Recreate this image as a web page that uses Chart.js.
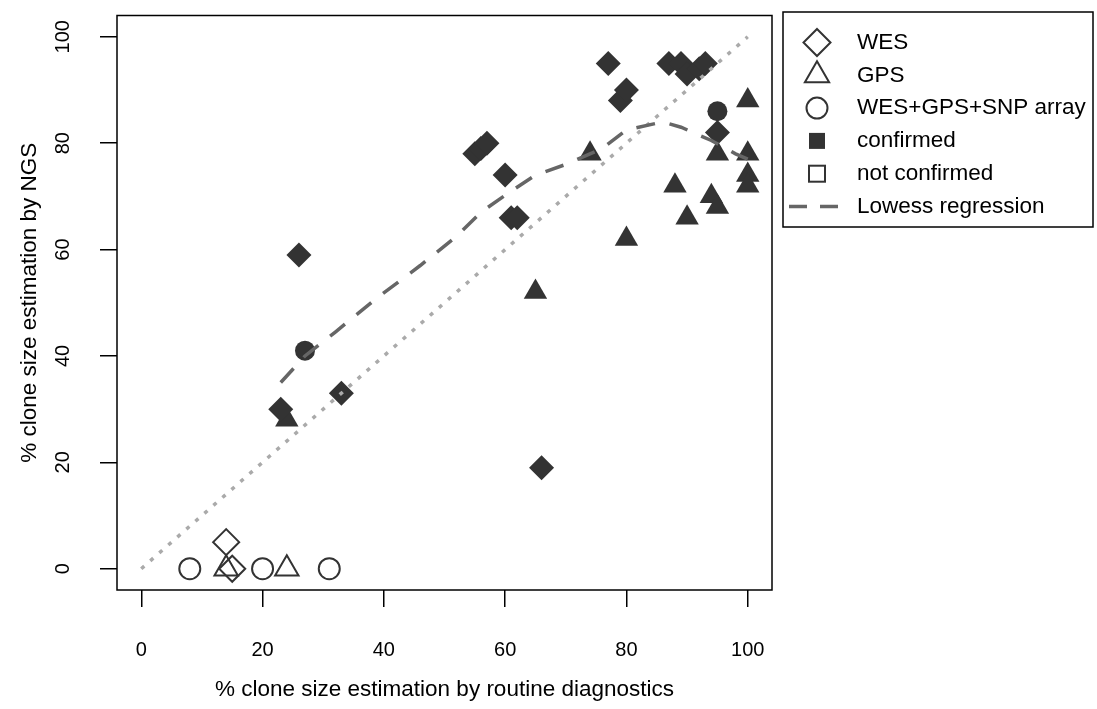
<!DOCTYPE html>
<html>
<head>
<meta charset="utf-8">
<title>Clone size estimation</title>
<script src="https://cdn.jsdelivr.net/npm/chart.js"></script>
<style>
  body { margin: 0; background: #fff; }
  canvas { display: block; }
</style>
</head>
<body>
<canvas id="cloneChart" width="1097" height="709"></canvas>
<script>
// ─────────────────────────────────────────────
// DATA
// ─────────────────────────────────────────────
const xTicks = [0, 20, 40, 60, 80, 100];
const yTicks = [0, 20, 40, 60, 80, 100];

// WES, confirmed
const wesConfX = [77, 87, 89, 90, 92, 93, 79, 80, 55, 56, 57, 60, 61, 62, 26, 23, 33, 66, 95];
const wesConfY = [95, 95, 95, 93, 94, 95, 88, 90, 78, 79, 80, 74, 66, 66, 59, 30, 33, 19, 82];

// GPS, confirmed
const gpsConfX = [100, 100, 100, 100, 95, 94, 95, 88, 90, 80, 74, 65, 24];
const gpsConfY = [88, 78, 74, 72, 78, 70, 68, 72, 66, 62, 78, 52, 28];

// WES+GPS+SNP array, confirmed
const combConfX = [95, 27];
const combConfY = [86, 41];

// not confirmed
const wesNotX = [14, 15];
const wesNotY = [5, 0];
const gpsNotX = [14, 24];
const gpsNotY = [0, 0];
const combNotX = [8, 20, 31];
const combNotY = [0, 0, 0];

// lowess fit
const lowessX = [23, 27, 32, 39, 46, 52, 56, 61, 65, 70, 76, 80, 86, 89, 94, 98, 100];
const lowessY = [35, 40, 44.5, 51, 57, 62.5, 67, 71, 74, 76, 79, 82.5, 84, 83, 80.5, 78, 77];

// identity line
const identX = [0, 100];
const identY = [0, 100];

const legendLabels = ['WES', 'GPS', 'WES+GPS+SNP array', 'confirmed', 'not confirmed', 'Lowess regression'];

// ─────────────────────────────────────────────
// HELPERS
// ─────────────────────────────────────────────
const FONT_FAMILY = '"Liberation Sans", Arial, sans-serif';
const TICK_SIZE = 20;
const LABEL_SIZE = 22.5;
const DARK = '#333333';

function pts(xs, ys) {
  return xs.map((x, i) => ({ x: x, y: ys[i] }));
}

function markerSet(xs, ys, style, radius, filled) {
  return {
    data: pts(xs, ys),
    pointStyle: style,
    pointRadius: radius,
    pointHoverRadius: radius,
    pointBackgroundColor: filled ? DARK : 'rgba(0,0,0,0)',
    pointBorderColor: DARK,
    pointBorderWidth: filled ? 0 : 2,
    showLine: false,
    order: 2
  };
}

// box, rotated y labels and legend, drawn like base R graphics
const rStylePlugin = {
  id: 'rStyle',
  afterDraw(chart) {
    const ctx = chart.ctx;
    const area = chart.chartArea;
    const yScale = chart.scales.y;

    ctx.save();
    ctx.strokeStyle = '#000';
    ctx.lineWidth = 1.5;
    ctx.strokeRect(area.left, area.top, area.right - area.left, area.bottom - area.top);

    ctx.fillStyle = '#000';
    ctx.font = TICK_SIZE + 'px ' + FONT_FAMILY;
    ctx.textAlign = 'center';
    ctx.textBaseline = 'middle';
    yTicks.forEach(v => {
      ctx.save();
      ctx.translate(63, yScale.getPixelForValue(v));
      ctx.rotate(-Math.PI / 2);
      ctx.fillText(String(v), 0, 0);
      ctx.restore();
    });

    // legend box
    const lx = 783, ly = 12, lw = 1093 - 783, lh = 227 - 12;
    ctx.lineWidth = 1.5;
    ctx.strokeStyle = '#000';
    ctx.strokeRect(lx, ly, lw, lh);

    const sx = 817;
    const rowY = i => 42.5 + i * 32.8;
    ctx.strokeStyle = DARK;
    ctx.fillStyle = DARK;
    ctx.lineWidth = 2;

    // open diamond
    let cy = rowY(0), r = 13.5;
    ctx.beginPath();
    ctx.moveTo(sx, cy - r); ctx.lineTo(sx + r, cy); ctx.lineTo(sx, cy + r); ctx.lineTo(sx - r, cy);
    ctx.closePath(); ctx.stroke();

    // open triangle
    cy = rowY(1); r = 14;
    ctx.beginPath();
    ctx.moveTo(sx, cy - r);
    ctx.lineTo(sx + r * Math.sqrt(3) / 2, cy + r / 2);
    ctx.lineTo(sx - r * Math.sqrt(3) / 2, cy + r / 2);
    ctx.closePath(); ctx.stroke();

    // open circle
    cy = rowY(2);
    ctx.beginPath(); ctx.arc(sx, cy, 10.5, 0, Math.PI * 2); ctx.stroke();

    // filled square
    cy = rowY(3);
    ctx.fillRect(sx - 8, cy - 8, 16, 16);

    // open square
    cy = rowY(4);
    ctx.strokeRect(sx - 8, cy - 8, 16, 16);

    // dashed line
    cy = rowY(5);
    ctx.strokeStyle = '#666666';
    ctx.lineWidth = 3.5;
    ctx.setLineDash([18, 13]);
    ctx.beginPath(); ctx.moveTo(789, cy); ctx.lineTo(839, cy); ctx.stroke();
    ctx.setLineDash([]);

    ctx.fillStyle = '#000';
    ctx.textAlign = 'left';
    ctx.font = LABEL_SIZE + 'px ' + FONT_FAMILY;
    legendLabels.forEach((t, i) => ctx.fillText(t, 857, rowY(i)));
    ctx.restore();
  }
};

// ─────────────────────────────────────────────
// CHART
// ─────────────────────────────────────────────
const tickFont = { family: FONT_FAMILY, size: TICK_SIZE };
const labelFont = { family: FONT_FAMILY, size: LABEL_SIZE };

new Chart(document.getElementById('cloneChart').getContext('2d'), {
  type: 'scatter',
  data: {
    datasets: [
      markerSet(wesConfX, wesConfY, 'rectRot', 12.5, true),
      markerSet(gpsConfX, gpsConfY, 'triangle', 13.5, true),
      markerSet(combConfX, combConfY, 'circle', 10, true),
      markerSet(wesNotX, wesNotY, 'rectRot', 13, false),
      markerSet(gpsNotX, gpsNotY, 'triangle', 13.5, false),
      markerSet(combNotX, combNotY, 'circle', 10.5, false),
      {
        data: pts(identX, identY),
        showLine: true,
        pointRadius: 0,
        borderColor: '#aaaaaa',
        borderWidth: 3.5,
        borderDash: [4, 8],
        order: 1
      },
      {
        data: pts(lowessX, lowessY),
        showLine: true,
        pointRadius: 0,
        borderColor: '#666666',
        borderWidth: 3.5,
        borderDash: [19, 15],
        tension: 0,
        order: 0
      }
    ]
  },
  options: {
    responsive: false,
    animation: false,
    layout: { padding: { top: 12, right: 1097 - 772, left: 0, bottom: 0 } },
    plugins: {
      legend: { display: false },
      tooltip: { enabled: false }
    },
    scales: {
      x: {
        type: 'linear',
        min: -4,
        max: 104,
        afterBuildTicks: s => { s.ticks = xTicks.map(v => ({ value: v })); },
        afterFit: s => { s.height = 709 - 590; },
        grid: { display: true, drawOnChartArea: false, drawTicks: true, tickLength: 17, color: '#000', lineWidth: 1.5 },
        border: { display: false },
        ticks: { font: tickFont, color: '#000', padding: 31, maxRotation: 0, minRotation: 0 },
        title: {
          display: true,
          text: '% clone size estimation by routine diagnostics',
          font: labelFont,
          color: '#000',
          padding: { top: 0, bottom: 5.5 }
        }
      },
      y: {
        type: 'linear',
        min: -4,
        max: 104,
        afterBuildTicks: s => { s.ticks = yTicks.map(v => ({ value: v })); },
        afterFit: s => { s.width = 117; },
        grid: { display: true, drawOnChartArea: false, drawTicks: true, tickLength: 17, color: '#000', lineWidth: 1.5 },
        border: { display: false },
        ticks: { display: false },
        title: {
          display: true,
          text: '% clone size estimation by NGS',
          font: labelFont,
          color: '#000',
          padding: { top: 16.5, bottom: 0 }
        }
      }
    }
  },
  plugins: [rStylePlugin]
});
</script>
</body>
</html>
